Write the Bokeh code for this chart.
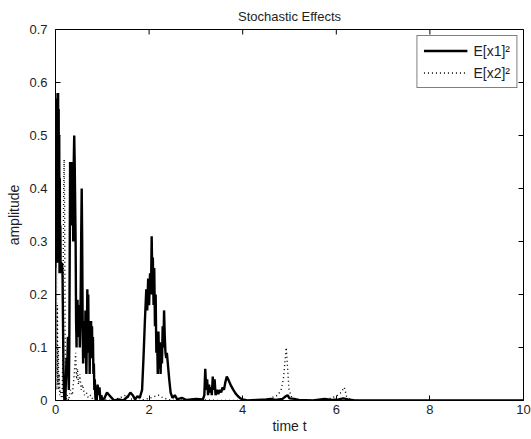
import math
from bokeh.plotting import figure
from bokeh.models import Range1d, FixedTicker, ColumnDataSource
from bokeh.embed import file_html
from bokeh.resources import INLINE

# ---- data ----
t_x1 = [0.000, 0.008, 0.014, 0.020, 0.026, 0.032, 0.038, 0.044, 0.050, 0.056,
        0.062, 0.068, 0.074, 0.080, 0.086, 0.092, 0.098, 0.104, 0.110, 0.120,
        0.130, 0.140, 0.150, 0.160, 0.170, 0.180, 0.190, 0.200, 0.210, 0.220,
        0.235, 0.250, 0.265, 0.275, 0.285, 0.295, 0.305, 0.312, 0.318, 0.324,
        0.330, 0.336, 0.342, 0.348, 0.354, 0.360, 0.366, 0.372, 0.378, 0.385,
        0.392, 0.400, 0.410, 0.430, 0.440, 0.450, 0.455, 0.460, 0.470, 0.480,
        0.490, 0.500, 0.510, 0.520, 0.530, 0.540, 0.550, 0.560, 0.570, 0.580,
        0.590, 0.600, 0.610, 0.620, 0.630, 0.640, 0.650, 0.660, 0.670, 0.680,
        0.690, 0.700, 0.710, 0.720, 0.730, 0.740, 0.750, 0.760, 0.770, 0.780,
        0.790, 0.800, 0.810, 0.820, 0.830, 0.840, 0.850, 0.860, 0.880, 0.900,
        0.920, 0.940, 0.960, 0.980, 1.000, 1.050, 1.100, 1.150, 1.200, 1.250,
        1.350, 1.450, 1.550, 1.600, 1.650, 1.700, 1.750, 1.800, 1.850, 1.880,
        1.910, 1.940, 1.960, 1.980, 2.000, 2.020, 2.040, 2.055, 2.070, 2.080,
        2.095, 2.110, 2.125, 2.140, 2.155, 2.170, 2.185, 2.200, 2.215, 2.230,
        2.245, 2.260, 2.275, 2.290, 2.305, 2.320, 2.335, 2.350, 2.365, 2.380,
        2.400, 2.430, 2.460, 2.500, 2.550, 2.600, 2.700, 2.800, 3.000, 3.150,
        3.180, 3.200, 3.220, 3.240, 3.260, 3.280, 3.300, 3.320, 3.340, 3.360,
        3.380, 3.400, 3.420, 3.450, 3.480, 3.510, 3.540, 3.570, 3.600, 3.630,
        3.660, 3.700, 3.750, 3.800, 3.850, 3.900, 3.950, 4.000, 4.100, 4.300,
        4.500, 4.600, 4.700, 4.850, 4.920, 4.960, 5.000, 5.100, 5.200, 5.500,
        5.750, 5.900, 6.050, 6.150, 6.250, 6.400, 8.000, 10.000]
v_x1 = [0.25, 0.48, 0.30, 0.56, 0.27, 0.57, 0.30, 0.58, 0.26, 0.58,
        0.30, 0.55, 0.26, 0.50, 0.24, 0.42, 0.25, 0.33, 0.24, 0.26,
        0.25, 0.26, 0.24, 0.15, 0.06, 0.02, 0.00, 0.01, 0.00, 0.03,
        0.08, 0.06, 0.12, 0.05, 0.02, 0.10, 0.30, 0.45, 0.33, 0.45,
        0.34, 0.44, 0.33, 0.45, 0.35, 0.43, 0.33, 0.40, 0.30, 0.42,
        0.46, 0.50, 0.45, 0.30, 0.15, 0.10, 0.18, 0.12, 0.19, 0.14,
        0.18, 0.12, 0.16, 0.10, 0.14, 0.22, 0.32, 0.40, 0.30, 0.15,
        0.07, 0.13, 0.08, 0.15, 0.10, 0.17, 0.09, 0.05, 0.12, 0.21,
        0.14, 0.20, 0.09, 0.15, 0.05, 0.12, 0.08, 0.15, 0.10, 0.14,
        0.08, 0.12, 0.05, 0.07, 0.02, 0.04, 0.01, 0.00, 0.00, 0.03,
        0.01, 0.025, 0.00, 0.01, 0.00, 0.005, 0.015, 0.01, 0.005, 0.00,
        0.002, 0.00, 0.008, 0.015, 0.01, 0.002, 0.008, 0.005, 0.02, 0.08,
        0.15, 0.21, 0.17, 0.23, 0.18, 0.24, 0.20, 0.31, 0.22, 0.27,
        0.18, 0.25, 0.14, 0.20, 0.09, 0.13, 0.05, 0.13, 0.06, 0.11,
        0.05, 0.10, 0.07, 0.14, 0.10, 0.17, 0.12, 0.09, 0.08, 0.09,
        0.07, 0.04, 0.015, 0.005, 0.01, 0.002, 0.005, 0.001, 0.003, 0.002,
        0.01, 0.06, 0.02, 0.04, 0.01, 0.03, 0.015, 0.025, 0.01, 0.045,
        0.02, 0.04, 0.01, 0.02, 0.012, 0.02, 0.015, 0.025, 0.02, 0.035,
        0.045, 0.038, 0.028, 0.02, 0.013, 0.008, 0.004, 0.002, 0.0, 0.001,
        0.002, 0.003, 0.001, 0.003, 0.008, 0.01, 0.004, 0.003, 0.001, 0.0,
        0.003, 0.001, 0.002, 0.004, 0.002, 0.0, 0.0, 0.0]

t_x2 = [0.000, 0.010, 0.020, 0.030, 0.040, 0.050, 0.060, 0.070, 0.080, 0.090,
        0.100, 0.120, 0.140, 0.155, 0.165, 0.175, 0.185, 0.195, 0.205, 0.215,
        0.225, 0.250, 0.280, 0.320, 0.360, 0.400, 0.430, 0.450, 0.470, 0.490,
        0.520, 0.550, 0.580, 0.620, 0.660, 0.700, 0.750, 0.800, 0.850, 0.900,
        1.000, 1.200, 1.400, 1.500, 1.600, 1.800, 2.000, 2.200, 2.300, 2.500,
        3.000, 3.500, 4.000, 4.500, 4.750, 4.820, 4.870, 4.900, 4.930, 4.960,
        4.990, 5.050, 5.200, 5.800, 6.000, 6.100, 6.170, 6.220, 6.300, 6.500,
        10.000]
v_x2 = [0.20, 0.05, 0.25, 0.02, 0.18, 0.03, 0.10, 0.02, 0.05, 0.01,
        0.02, 0.01, 0.00, 0.08, 0.25, 0.40, 0.455, 0.35, 0.15, 0.03,
        0.00, 0.01, 0.00, 0.02, 0.01, 0.05, 0.09, 0.04, 0.06, 0.03,
        0.05, 0.02, 0.03, 0.01, 0.015, 0.005, 0.01, 0.002, 0.005, 0.0,
        0.002, 0.0, 0.006, 0.01, 0.003, 0.0, 0.004, 0.01, 0.005, 0.0,
        0.002, 0.0, 0.0, 0.001, 0.01, 0.02, 0.04, 0.07, 0.10, 0.06,
        0.02, 0.005, 0.0, 0.002, 0.008, 0.015, 0.025, 0.008, 0.002, 0.0,
        0.0]

x_ticks = [0, 2, 4, 6, 8, 10]
y_ticks = [0, 0.1, 0.2, 0.3, 0.4, 0.5, 0.6, 0.7]
y_tick_labels = ["0", "0.1", "0.2", "0.3", "0.4", "0.5", "0.6", "0.7"]

FONT = "Liberation Sans"
TXT = "#1e1e1e"

x_lo, x_hi = x_ticks[0], x_ticks[-1]
y_lo, y_hi = y_ticks[0], y_ticks[-1]

p = figure(width=531, height=439, output_backend="svg", toolbar_location=None,
           x_range=Range1d(x_lo, x_hi), y_range=Range1d(y_lo, y_hi),
           title="Stochastic Effects",
           min_border_left=55, min_border_right=8, min_border_top=29,
           min_border_bottom=39)
p.title.align = "center"
p.title.vertical_align = "bottom"
p.title.text_font = FONT
p.title.text_font_size = "13px"
p.title.text_font_style = "normal"
p.title.text_color = TXT
p.title.standoff = 12

p.xgrid.visible = False
p.ygrid.visible = False
p.outline_line_color = "black"
p.outline_line_width = 1
p.outline_line_alpha = 1

src1 = ColumnDataSource(dict(t=t_x1, v=v_x1))
src2 = ColumnDataSource(dict(t=t_x2, v=v_x2))
r2 = p.line("t", "v", source=src2, line_color="black", line_width=1.4,
            line_dash="1 3", legend_label="E[x2]²")
r1 = p.line("t", "v", source=src1, line_color="black", line_width=2.4,
            legend_label="E[x1]²")

for ax in (p.xaxis[0], p.yaxis[0]):
    ax.major_tick_in = 5
    ax.major_tick_out = 0
    ax.minor_tick_line_color = None
    ax.axis_line_color = None
    ax.major_label_text_font = FONT
    ax.major_label_text_font_size = "13px"
    ax.major_label_text_color = TXT
    ax.axis_label_text_font = FONT
    ax.axis_label_text_font_size = "14px"
    ax.axis_label_text_font_style = "normal"
    ax.axis_label_text_color = TXT
    ax.major_tick_line_color = "black"

p.xaxis[0].ticker = FixedTicker(ticks=x_ticks)
p.yaxis[0].ticker = FixedTicker(ticks=y_ticks)
p.yaxis[0].major_label_overrides = {t: l for t, l in zip(y_ticks, y_tick_labels)}
p.xaxis[0].axis_label = "time t"
p.yaxis[0].axis_label = "amplitude"
p.xaxis[0].major_label_standoff = 4
p.xaxis[0].axis_label_standoff = 1
p.yaxis[0].major_label_standoff = 8
p.yaxis[0].axis_label_standoff = 4

# mirrored tick marks on top and right edges (MATLAB box style)
p.scatter(x=x_ticks, y=[y_hi] * len(x_ticks), marker="dash", size=10,
          angle=math.pi / 2, line_color="black", line_width=1)
p.scatter(x=[x_hi] * len(y_ticks), y=y_ticks, marker="dash", size=10,
          line_color="black", line_width=1)

lg = p.legend[0]
lg.items = list(reversed(lg.items))
lg.location = "top_right"
lg.margin = 6
lg.padding = 6
lg.spacing = 5
lg.glyph_width = 44
lg.glyph_height = 17
lg.label_height = 17
lg.label_standoff = 6
lg.label_text_font = FONT
lg.label_text_font_size = "14px"
lg.label_text_color = TXT
lg.border_line_color = "black"
lg.border_line_width = 1
lg.background_fill_alpha = 1

open("out.html", "w").write(file_html(p, INLINE))
